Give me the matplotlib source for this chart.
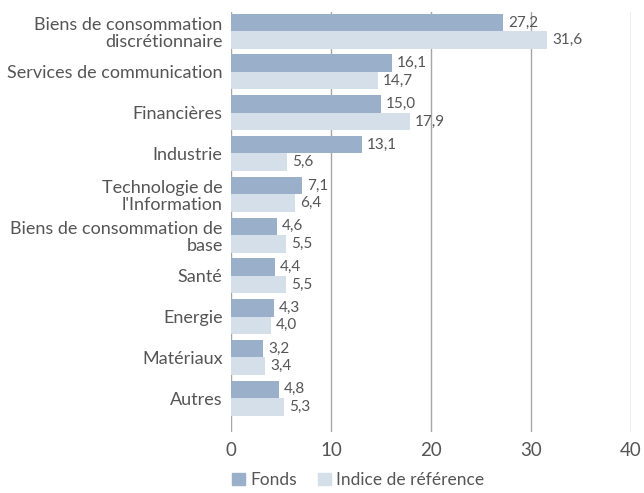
import matplotlib
matplotlib.use("Agg")
import matplotlib.pyplot as plt
import numpy as np
from matplotlib.patches import Patch

categories = ["Biens de consommation\ndiscrétionnaire", "Services de communication", "Financières",
              "Industrie", "Technologie de\nl'Information", "Biens de consommation de\nbase",
              "Santé", "Energie", "Matériaux", "Autres"]
fonds = [27.2, 16.1, 15.0, 13.1, 7.1, 4.6, 4.4, 4.3, 3.2, 4.8]
indice = [31.6, 14.7, 17.9, 5.6, 6.4, 5.5, 5.5, 4.0, 3.4, 5.3]
series_names = ["Fonds", "Indice de référence"]
xticks = [0, 10, 20, 30, 40]

c_fonds = "#9AB0CA"
c_ind = "#D5DFE9"
tc = "#555555"

plt.rcParams['font.family'] = ['Lato', 'DejaVu Sans']

fig = plt.figure(figsize=(6.44, 4.93), dpi=100)
ax = fig.add_axes([231/644, 1-432/493, 400/644, 420/493])

y = np.arange(len(categories))
h = 0.43
ax.barh(y - h/2, fonds, height=h, color=c_fonds, zorder=3)
ax.barh(y + h/2, indice, height=h, color=c_ind, zorder=3)

for yi, v in zip(y, fonds):
    ax.text(v + 0.5, yi - h/2, f"{v:.1f}".replace(".", ","), va="center", ha="left", fontsize=11, color=tc)
for yi, v in zip(y, indice):
    ax.text(v + 0.5, yi + h/2, f"{v:.1f}".replace(".", ","), va="center", ha="left", fontsize=11, color=tc)

ax.set_xlim(0, 40)
ax.set_ylim(9.83, -0.47)
ax.set_xticks(xticks)
ax.set_xticklabels([str(t) for t in xticks], fontsize=13.5, color=tc)
ax.set_yticks(y)
ax.set_yticklabels(categories, fontsize=13, color=tc, linespacing=1.1)
ax.tick_params(axis='both', length=0)
ax.tick_params(axis='x', pad=7)
ax.tick_params(axis='y', pad=6)
for s in ax.spines.values():
    s.set_visible(False)
ax.grid(axis='x', color="#A6A6A6", linewidth=1, zorder=0)

handles = [Patch(color=c_fonds), Patch(color=c_ind)]
fig.legend(handles, series_names, loc="center", bbox_to_anchor=(358/644, 1-480/493), ncol=2,
           frameon=False, fontsize=12.5, handlelength=0.75, handleheight=0.75, handletextpad=0.3,
           columnspacing=1.2, labelcolor=tc)

fig.savefig("out.png", dpi=100)
